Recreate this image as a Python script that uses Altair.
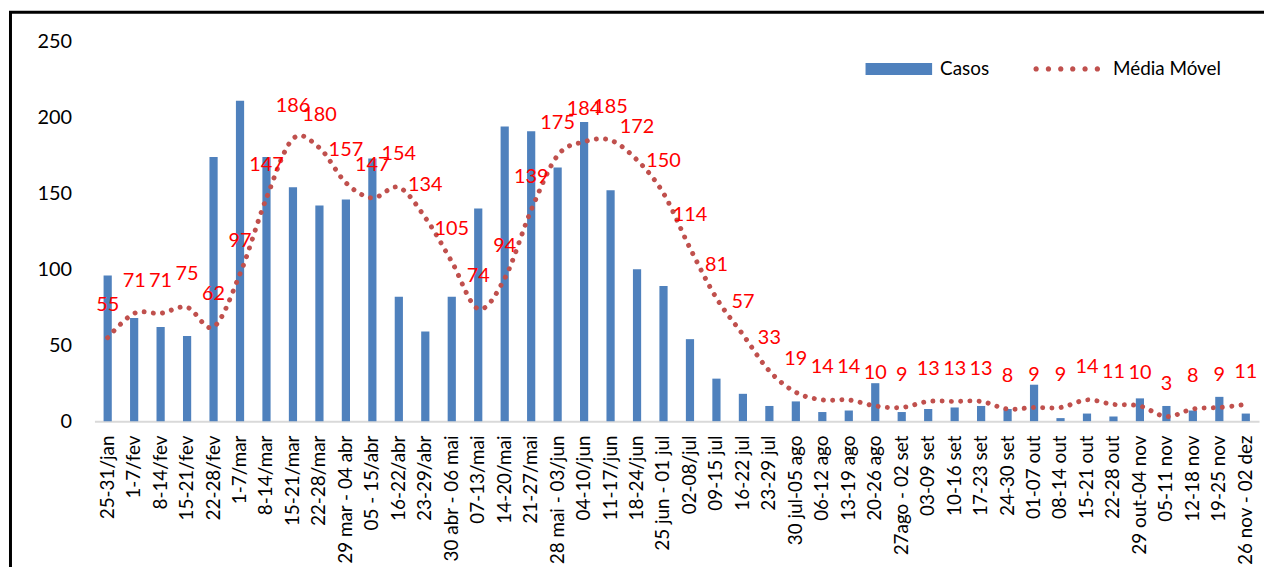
import altair as alt
import pandas as pd

categorias = [
    "25-31/jan", "1-7/fev", "8-14/fev", "15-21/fev", "22-28/fev", "1-7/mar",
    "8-14/mar", "15-21/mar", "22-28/mar", "29 mar - 04 abr", "05 - 15/abr",
    "16-22/abr", "23-29/abr", "30 abr - 06 mai", "07-13/mai", "14-20/mai",
    "21-27/mai", "28 mai - 03/jun", "04-10/jun", "11-17/jun", "18-24/jun",
    "25 jun - 01 jul", "02-08/jul", "09-15 jul", "16-22 jul", "23-29 jul",
    "30 jul-05 ago", "06-12 ago", "13-19 ago", "20-26 ago", "27ago - 02 set",
    "03-09 set", "10-16 set", "17-23 set", "24-30 set", "01-07 out",
    "08-14 out", "15-21 out", "22-28 out", "29 out-04 nov", "05-11 nov",
    "12-18 nov", "19-25 nov", "26 nov - 02 dez",
]
casos = [96, 68, 62, 56, 174, 211, 174, 154, 142, 146, 173, 82, 59, 82, 140,
         194, 191, 167, 197, 152, 100, 89, 54, 28, 18, 10, 13, 6, 7, 25, 6, 8,
         9, 10, 8, 24, 2, 5, 3, 15, 10, 7, 16, 5]
media_movel = [55, 71, 71, 75, 62, 97, 147, 186, 180, 157, 147, 154, 134, 105,
               74, 94, 139, 175, 184, 185, 172, 150, 114, 81, 57, 33, 19, 14,
               14, 10, 9, 13, 13, 13, 8, 9, 9, 14, 11, 10, 3, 8, 9, 11]
y_ticks = [0, 50, 100, 150, 200, 250]

df = pd.DataFrame({
    "semana": categorias,
    "casos": casos,
    "media": media_movel,
    "s1": "Casos",
    "s2": "Média Móvel",
})

FONT = "Lato"

x_enc = alt.X(
    "semana:N", sort=categorias,
    scale=alt.Scale(paddingInner=0.69, paddingOuter=0.345),
    axis=alt.Axis(title=None, labelAngle=-90, labelFontSize=19, labelFont=FONT,
                  labelColor="#000000", labelPadding=14, ticks=False,
                  domainColor="#D9D9D9", domainWidth=2, labelOverlap=False,
                  labelLimit=300),
)
y_scale = alt.Scale(domain=[0, 250], nice=False)
y_axis = alt.Axis(values=y_ticks, title=None, grid=False, domain=False,
                  ticks=False, labelFontSize=20, labelFont=FONT,
                  labelColor="#000000", labelPadding=23)

bars = alt.Chart(df).mark_bar().encode(
    x=x_enc,
    y=alt.Y("casos:Q", scale=y_scale, axis=y_axis),
    color=alt.Color("s1:N", scale=alt.Scale(domain=["Casos"], range=["#4F81BD"]),
                    legend=alt.Legend(title=None, orient="none", legendX=776, legendY=-6,
                                      symbolType="M-1,-0.18H1V0.18H-1Z", symbolSize=4489,
                                      symbolStrokeWidth=0, labelFont=FONT, labelFontSize=19,
                                      labelColor="#000000", labelOffset=8)),
)

dots = "".join(
    f"M{cx - 0.08:.2f},0a0.08,0.08 0 1,0 0.16,0a0.08,0.08 0 1,0 -0.16,0"
    for cx in [-0.92, -0.552, -0.184, 0.184, 0.552, 0.92]
)

line = alt.Chart(df).mark_line(
    interpolate="cardinal", strokeDash=[0.01, 9.3], strokeCap="round", strokeWidth=5
).encode(
    x=x_enc,
    y=alt.Y("media:Q", scale=y_scale, axis=y_axis),
    stroke=alt.Stroke("s2:N", scale=alt.Scale(domain=["Média Móvel"], range=["#C0504D"]),
                      legend=alt.Legend(title=None, orient="none", legendX=945, legendY=-6,
                                        symbolType=dots, symbolSize=4489,
                                        symbolFillColor="#C0504D", symbolStrokeWidth=0,
                                        labelFont=FONT, labelFontSize=19,
                                        labelColor="#000000", labelOffset=13)),
)

labels = alt.Chart(df).mark_text(
    dy=-33, color="#FF0000", fontSize=20, font=FONT
).encode(
    x=x_enc,
    y=alt.Y("media:Q", scale=y_scale, axis=y_axis),
    text=alt.Text("media:Q"),
)

border = alt.Chart(alt.Data(values=[{"b": 1}])).mark_rect(
    fillOpacity=0, stroke="#000000", strokeWidth=3
).encode(
    x=alt.value(-84.5), x2=alt.value(1240),
    y=alt.value(-29.5), y2=alt.value(700),
)

chart = alt.layer(bars, line, labels, border).resolve_scale(
    color="independent"
).properties(
    width=1172, height=382,
    padding={"left": 87, "top": 32, "right": 5, "bottom": 145},
    autosize=alt.AutoSizeParams(type="none"),
    background="white",
).configure_view(strokeWidth=0)

chart.save("out.html", embed_options={"renderer": "svg", "actions": False})
